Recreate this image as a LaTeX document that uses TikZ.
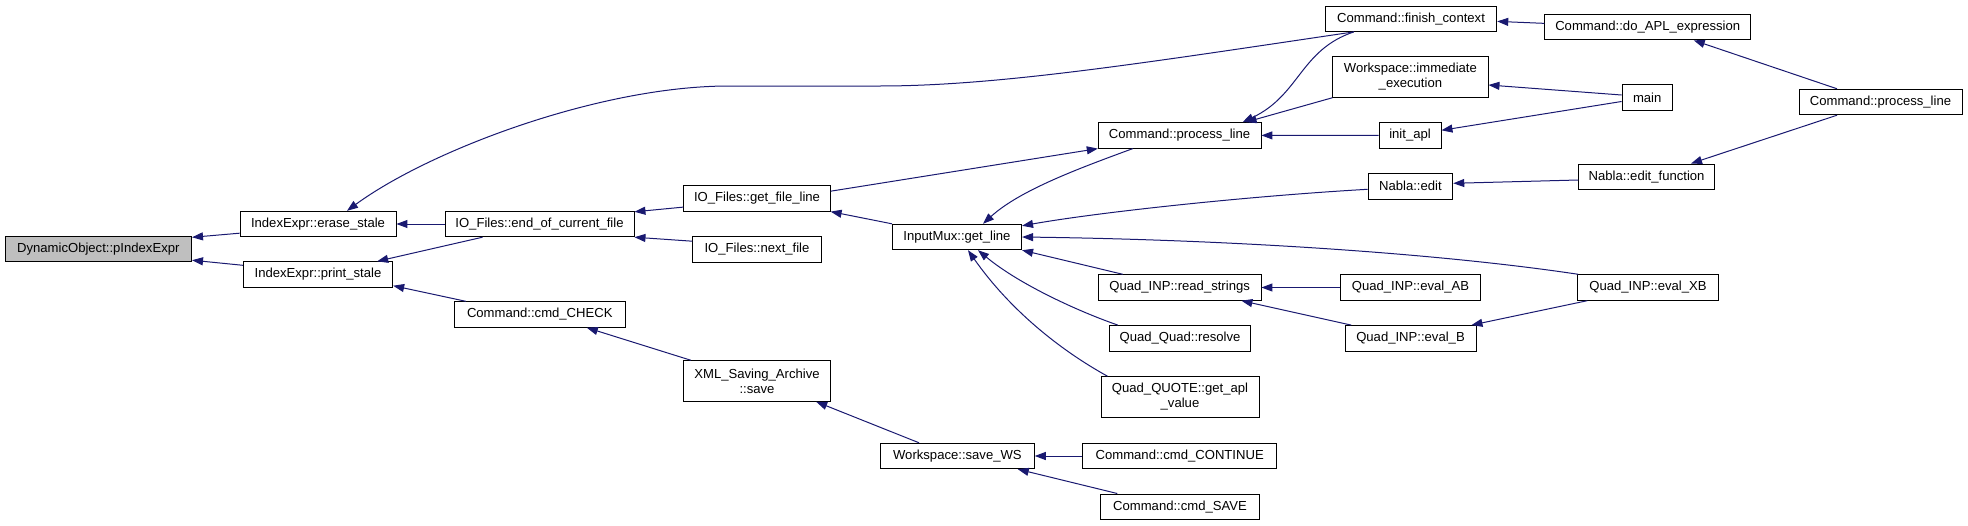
\documentclass[tikz,border=0pt]{standalone}
\usepackage{fontspec}
\setmainfont{Liberation Sans}
\usetikzlibrary{arrows.meta,calc}
\definecolor{edgeblue}{HTML}{191970}
\definecolor{rootgray}{HTML}{BFBFBF}
\tikzset{
  fn/.style={draw=black, line width=0.9pt, fill=white, inner sep=0pt,
    minimum height=25.5pt, align=center, font=\fontsize{13.1}{15}\selectfont},
  fntwo/.style={fn, minimum height=40.6pt},
  rootfn/.style={fn, fill=rootgray},
  cg/.style={draw=edgeblue, line width=1pt, {Triangle[length=11pt,width=8pt]}-}
}
\begin{document}
\begin{tikzpicture}[x=1pt,y=-1pt]
\useasboundingbox (0,0) rectangle (1968,525);
% column 0
\node[rootfn, minimum width=186.5pt] (dyn) at (98.3,249) {DynamicObject::pIndexExpr};
% column 1
\node[fn, minimum width=156pt] (erase) at (318,224) {IndexExpr::erase\_stale};
\node[fn, minimum width=149.4pt] (prints) at (318,274.5) {IndexExpr::print\_stale};
% column 2
\node[fn, minimum width=189pt] (eocf) at (539.5,224) {IO\_Files::end\_of\_current\_file};
\node[fn, minimum width=171pt] (cmdcheck) at (539.8,314.5) {Command::cmd\_CHECK};
% column 3
\node[fn, minimum width=146.3pt] (gfl) at (757,198.4) {IO\_Files::get\_file\_line};
\node[fn, minimum width=128.5pt] (nextf) at (757,249.4) {IO\_Files::next\_file};
\node[fntwo, minimum width=147.4pt] (xml) at (757,381) {XML\_Saving\_Archive\\::save};
% column 4
\node[fn, minimum width=129.2pt] (getline) at (957,237) {InputMux::get\_line};
\node[fn, minimum width=153.8pt] (savews) at (957.4,456) {Workspace::save\_WS};
% column 5
\node[fn, minimum width=162.7pt] (procL) at (1179.6,135.4) {Command::process\_line};
\node[fn, minimum width=162.7pt] (readstr) at (1179.6,287.5) {Quad\_INP::read\_strings};
\node[fn, minimum width=141.4pt] (qq) at (1180,338.3) {Quad\_Quad::resolve};
\node[fntwo, minimum width=158pt] (quote) at (1180,397) {Quad\_QUOTE::get\_apl\\\_value};
\node[fn, minimum width=194pt] (cmdcont) at (1179.7,456) {Command::cmd\_CONTINUE};
\node[fn, minimum width=158.6pt] (cmdsave) at (1180,506.7) {Command::cmd\_SAVE};
% column 6
\node[fn, minimum width=171.5pt] (fc) at (1411,18.7) {Command::finish\_context};
\node[fntwo, minimum width=155.2pt] (immexec) at (1410.4,77) {Workspace::immediate\\\_execution};
\node[fn, minimum width=62pt] (initapl) at (1410,135.3) {init\_apl};
\node[fn, minimum width=84.8pt] (nabla) at (1410.4,186.3) {Nabla::edit};
\node[fn, minimum width=139.8pt] (evalAB) at (1410.5,287.5) {Quad\_INP::eval\_AB};
\node[fn, minimum width=131pt] (evalB) at (1410.5,338.3) {Quad\_INP::eval\_B};
% column 7
\node[fn, minimum width=206pt] (doapl) at (1647.75,27.15) {Command::do\_APL\_expression};
\node[fn, minimum width=50.4pt] (main) at (1647.2,97.5) {main};
\node[fn, minimum width=135.8pt] (editfn) at (1646.6,176.7) {Nabla::edit\_function};
\node[fn, minimum width=140.6pt] (evalXB) at (1648,287.5) {Quad\_INP::eval\_XB};
% column 8
\node[fn, minimum width=163pt] (procR) at (1880.5,102) {Command::process\_line};

% edges (arrow tip at callee, first coordinate)
\draw[cg] ($(dyn.north east)+(0,1.5)$) -- ($(erase.south west)+(0,-4)$);
\draw[cg] ($(dyn.south east)+(0,-2)$) -- ($(prints.north west)+(0,4)$);
\draw[cg] ($(erase.north)+(29,0)$) .. controls (430,150) and (600,86) .. (729,86)
   -- (880,86) .. controls (1000,86) and (1150,62) .. ($(fc.south west)+(29,0)$);
\draw[cg] (erase.east) -- (eocf.west);
\draw[cg] ($(prints.north east)+(-16,0)$) -- ($(eocf.south west)+(38,0)$);
\draw[cg] ($(prints.south east)+(0,-2)$) -- ($(cmdcheck.north west)+(12,0)$);
\draw[cg] ($(eocf.north east)+(0,1)$) -- ($(gfl.south west)+(0,-4.5)$);
\draw[cg] (eocf.south east) -- ($(nextf.north west)+(0,5)$);
\draw[cg] ($(cmdcheck.south)+(47,0)$) -- ($(xml.north west)+(8,0)$);
\draw[cg] ($(xml.south east)+(-15,0)$) -- ($(savews.north west)+(39,0)$);
\draw[cg] (savews.east) -- (cmdcont.west);
\draw[cg] ($(savews.south east)+(-17,0)$) -- ($(cmdsave.north west)+(17,0)$);
\draw[cg] (gfl.south east) -- (getline.north west);
\draw[cg] (procL.south west) -- ($(gfl.north east)+(0,6)$);
\draw[cg] ($(getline.north)+(26,0)$) .. controls (1020,190) and (1080,168) .. ($(procL.south west)+(35,0)$);
\draw[cg] ($(getline.north east)+(0,2)$) .. controls (1100,212) and (1250,196) .. ($(nabla.west)+(0,3)$);
\draw[cg] (getline.east) .. controls (1250,240) and (1450,255) .. ($(evalXB.north west)+(1,0)$);
\draw[cg] (getline.south east) -- ($(readstr.north west)+(25,0)$);
\draw[cg] ($(getline.south)+(21,0)$) .. controls (1020,285) and (1080,312) .. ($(qq.north west)+(9,0)$);
\draw[cg] ($(getline.south)+(11,0)$) .. controls (1010,310) and (1060,350) .. ($(quote.north west)+(7,0)$);
\draw[cg] ($(procL.north)+(63,0)$) .. controls (1300,95) and (1300,50) .. ($(fc.south west)+(29,0)$);
\draw[cg] ($(procL.north)+(66,0)$) -- (immexec.south west);
\draw[cg] (procL.east) -- (initapl.west);
\draw[cg] ($(fc.east)+(0,2.7)$) -- ($(doapl.west)+(0,-3.8)$);
\draw[cg] ($(immexec.east)+(0,8)$) -- ($(main.west)+(0,-2.5)$);
\draw[cg] ($(initapl.east)+(0,-5)$) -- ($(main.west)+(0,4)$);
\draw[cg] ($(doapl.south)+(46,0)$) -- ($(procR.north west)+(38.5,0)$);
\draw[cg] ($(nabla.east)+(0,-3)$) -- ($(editfn.west)+(0,3.3)$);
\draw[cg] ($(editfn.north)+(44.4,0)$) -- ($(procR.south west)+(38.5,0)$);
\draw[cg] (readstr.east) -- (evalAB.west);
\draw[cg] ($(readstr.south east)+(-20,0)$) -- ($(evalB.north west)+(6.7,0)$);
\draw[cg] ($(evalB.north east)+(-5,0)$) -- ($(evalXB.south west)+(10,0)$);
\end{tikzpicture}
\end{document}
